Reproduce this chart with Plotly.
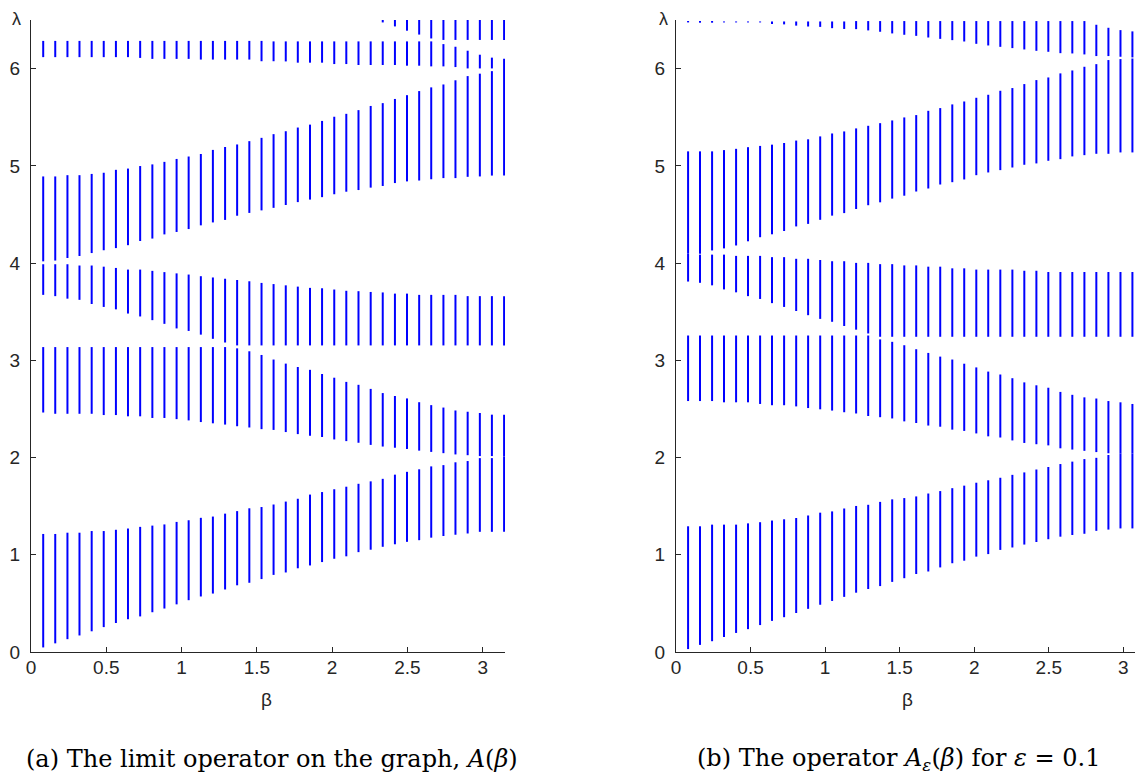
import plotly.graph_objects as go

# beta grid (x positions of the vertical lines)
BETA = [0.081, 0.161, 0.242, 0.322, 0.403, 0.483, 0.564, 0.644, 0.725, 0.806,
        0.886, 0.967, 1.047, 1.128, 1.208, 1.289, 1.369, 1.450, 1.531, 1.611,
        1.692, 1.772, 1.853, 1.933, 2.014, 2.094, 2.175, 2.256, 2.336, 2.417,
        2.497, 2.578, 2.658, 2.739, 2.819, 2.900, 2.981, 3.061, 3.142]

X_TICKS = [0, 0.5, 1, 1.5, 2, 2.5, 3]
X_TICK_TEXT = ["0", "0.5", "1", "1.5", "2", "2.5", "3"]
Y_TICKS = [0, 1, 2, 3, 4, 5, 6]
Y_TICK_TEXT = ["0", "1", "2", "3", "4", "5", "6"]

# ---------------- panel (a): limit operator A(beta) ----------------
A_B1_LO = [0.047, 0.089, 0.132, 0.170, 0.213, 0.256, 0.298, 0.337, 0.366, 0.409,
           0.447, 0.490, 0.533, 0.571, 0.601, 0.643, 0.686, 0.712, 0.750, 0.793,
           0.818, 0.861, 0.890, 0.925, 0.959, 0.984, 1.027, 1.052, 1.082, 1.108,
           1.133, 1.150, 1.176, 1.193, 1.206, 1.219, 1.236, 1.236, 1.236]
A_B1_HI = [1.214, 1.214, 1.227, 1.227, 1.244, 1.244, 1.257, 1.270, 1.287, 1.300,
           1.312, 1.338, 1.355, 1.380, 1.393, 1.423, 1.449, 1.478, 1.491, 1.517,
           1.547, 1.576, 1.619, 1.645, 1.674, 1.700, 1.730, 1.755, 1.781, 1.824,
           1.853, 1.879, 1.909, 1.922, 1.951, 1.964, 1.994, 1.994, 2.010]
A_B2_LO = [2.463, 2.450, 2.450, 2.450, 2.450, 2.437, 2.437, 2.424, 2.424, 2.407,
           2.407, 2.395, 2.382, 2.365, 2.352, 2.339, 2.322, 2.309, 2.292, 2.284,
           2.262, 2.241, 2.224, 2.211, 2.186, 2.169, 2.152, 2.130, 2.113, 2.101,
           2.088, 2.071, 2.058, 2.045, 2.032, 2.024, 2.015, 2.015, 2.010]
A_B2_HI = [3.136, 3.136, 3.136, 3.136, 3.136, 3.136, 3.136, 3.136, 3.136, 3.136,
           3.136, 3.136, 3.136, 3.136, 3.136, 3.136, 3.123, 3.093, 3.055, 3.008,
           2.966, 2.931, 2.902, 2.859, 2.821, 2.778, 2.748, 2.706, 2.663, 2.633,
           2.608, 2.569, 2.539, 2.514, 2.484, 2.471, 2.458, 2.441, 2.441]
A_B3_LO = [3.673, 3.660, 3.634, 3.622, 3.579, 3.549, 3.524, 3.481, 3.451, 3.413,
           3.375, 3.328, 3.302, 3.264, 3.221, 3.183, 3.153, 3.153, 3.153, 3.153,
           3.153, 3.153, 3.153, 3.153, 3.153, 3.153, 3.153, 3.153, 3.153, 3.153,
           3.153, 3.153, 3.153, 3.153, 3.153, 3.153, 3.153, 3.153, 3.153]
A_B3_HI = [3.988, 3.988, 3.988, 3.975, 3.975, 3.963, 3.950, 3.933, 3.933, 3.920,
           3.907, 3.894, 3.882, 3.865, 3.852, 3.839, 3.826, 3.813, 3.796, 3.784,
           3.771, 3.758, 3.745, 3.741, 3.728, 3.715, 3.711, 3.703, 3.698, 3.686,
           3.686, 3.673, 3.673, 3.673, 3.673, 3.660, 3.660, 3.660, 3.660]
A_B4_LO = [4.018, 4.026, 4.052, 4.073, 4.103, 4.132, 4.154, 4.184, 4.227, 4.252,
           4.295, 4.320, 4.350, 4.388, 4.418, 4.444, 4.487, 4.516, 4.542, 4.568,
           4.597, 4.627, 4.653, 4.678, 4.708, 4.734, 4.751, 4.776, 4.793, 4.823,
           4.840, 4.849, 4.862, 4.874, 4.874, 4.887, 4.891, 4.900, 4.900]
A_B4_HI = [4.891, 4.891, 4.904, 4.904, 4.917, 4.929, 4.959, 4.972, 4.998, 5.015,
           5.041, 5.071, 5.096, 5.122, 5.164, 5.194, 5.220, 5.254, 5.288, 5.326,
           5.356, 5.394, 5.424, 5.462, 5.505, 5.535, 5.573, 5.616, 5.645, 5.688,
           5.727, 5.769, 5.807, 5.837, 5.880, 5.923, 5.948, 5.974, 6.101]
A_B5_LO = [6.118, 6.118, 6.118, 6.118, 6.118, 6.118, 6.118, 6.118, 6.110, 6.100,
           6.100, 6.100, 6.100, 6.093, 6.093, 6.093, 6.093, 6.093, 6.076, 6.076,
           6.074, 6.061, 6.061, 6.061, 6.047, 6.047, 6.037, 6.037, 6.037, 6.037,
           6.030, 6.030, 6.023, 6.023, 6.016, 6.002, 6.002, 6.002, None]
A_B5_HI = [6.285, 6.285, 6.285, 6.285, 6.285, 6.285, 6.285, 6.285, 6.285, 6.285,
           6.285, 6.285, 6.285, 6.285, 6.285, 6.285, 6.285, 6.285, 6.285, 6.280,
           6.280, 6.280, 6.280, 6.280, 6.280, 6.280, 6.280, 6.280, 6.280, 6.280,
           6.280, 6.280, 6.280, 6.252, 6.225, 6.184, 6.143, 6.113, None]
A_B6_LO = [None] * 28 + [6.475, 6.434, 6.390, 6.350, 6.310, 6.295, 6.295, 6.295,
                         6.295, 6.295, 6.295]
A_B6_HI = [None] * 28 + [6.500, 6.500, 6.500, 6.500, 6.500, 6.500, 6.500, 6.500,
                         6.500, 6.500, 6.500]

# ---------------- panel (b): operator A_eps(beta), eps = 0.1 ----------------
B_B1_LO = [0.030, 0.073, 0.111, 0.154, 0.196, 0.235, 0.277, 0.320, 0.358, 0.401,
           0.444, 0.486, 0.525, 0.567, 0.610, 0.648, 0.678, 0.721, 0.759, 0.802,
           0.828, 0.870, 0.913, 0.939, 0.981, 1.007, 1.050, 1.075, 1.105, 1.131,
           1.160, 1.186, 1.203, 1.216, 1.246, 1.259, 1.271, 1.271]
B_B1_HI = [1.293, 1.293, 1.310, 1.310, 1.310, 1.323, 1.335, 1.352, 1.365, 1.378,
           1.404, 1.433, 1.446, 1.476, 1.502, 1.514, 1.544, 1.570, 1.583, 1.600,
           1.630, 1.655, 1.685, 1.711, 1.741, 1.766, 1.792, 1.822, 1.847, 1.877,
           1.903, 1.933, 1.958, 1.984, 1.997, 2.026, 2.040, 2.040]
B_B2_LO = [2.581, 2.581, 2.581, 2.568, 2.568, 2.568, 2.551, 2.538, 2.538, 2.526,
           2.509, 2.496, 2.483, 2.466, 2.453, 2.427, 2.415, 2.402, 2.372, 2.355,
           2.329, 2.317, 2.287, 2.274, 2.248, 2.218, 2.206, 2.176, 2.150, 2.137,
           2.125, 2.095, 2.082, 2.069, 2.056, 2.044, 2.040, 2.040]
B_B2_HI = [3.255, 3.255, 3.255, 3.255, 3.255, 3.255, 3.255, 3.255, 3.255, 3.255,
           3.255, 3.255, 3.255, 3.255, 3.255, 3.255, 3.215, 3.190, 3.155, 3.114,
           3.076, 3.038, 3.008, 2.965, 2.927, 2.884, 2.854, 2.816, 2.773, 2.743,
           2.718, 2.675, 2.645, 2.619, 2.607, 2.581, 2.568, 2.551]
B_B3_LO = [3.810, 3.797, 3.771, 3.729, 3.699, 3.660, 3.631, 3.588, 3.549, 3.507,
           3.464, 3.426, 3.396, 3.353, 3.315, 3.276, 3.242, 3.242, 3.242, 3.242,
           3.242, 3.242, 3.242, 3.242, 3.242, 3.242, 3.242, 3.242, 3.242, 3.242,
           3.242, 3.242, 3.242, 3.242, 3.242, 3.242, 3.242, 3.242]
B_B3_HI = [4.100, 4.087, 4.087, 4.087, 4.074, 4.074, 4.074, 4.061, 4.061, 4.044,
           4.044, 4.032, 4.019, 4.019, 4.002, 4.002, 3.989, 3.989, 3.976, 3.976,
           3.963, 3.963, 3.946, 3.946, 3.933, 3.933, 3.933, 3.933, 3.921, 3.921,
           3.908, 3.908, 3.908, 3.908, 3.908, 3.908, 3.908, 3.908]
B_B4_LO = [4.100, 4.096, 4.130, 4.151, 4.181, 4.224, 4.266, 4.296, 4.330, 4.377,
           4.403, 4.445, 4.488, 4.514, 4.556, 4.595, 4.625, 4.663, 4.693, 4.736,
           4.767, 4.808, 4.832, 4.860, 4.904, 4.932, 4.956, 4.983, 5.011, 5.025,
           5.052, 5.069, 5.097, 5.110, 5.124, 5.124, 5.138, 5.138]
B_B4_HI = [5.149, 5.149, 5.149, 5.162, 5.175, 5.192, 5.205, 5.218, 5.235, 5.260,
           5.273, 5.303, 5.333, 5.354, 5.385, 5.412, 5.439, 5.467, 5.498, 5.522,
           5.566, 5.594, 5.632, 5.662, 5.700, 5.731, 5.772, 5.800, 5.841, 5.882,
           5.909, 5.951, 5.981, 6.019, 6.046, 6.088, 6.098, 6.104]
B_B5_LO = [6.475, 6.472, 6.472, 6.475, 6.475, 6.475, 6.475, 6.459, 6.455, 6.442,
           6.433, 6.429, 6.416, 6.408, 6.406, 6.393, 6.379, 6.362, 6.348, 6.337,
           6.320, 6.306, 6.293, 6.279, 6.255, 6.238, 6.224, 6.211, 6.197, 6.183,
           6.173, 6.159, 6.156, 6.146, 6.129, 6.129, 6.122, 6.115]
B_B5_HI = [6.490, 6.490, 6.490, 6.485, 6.485, 6.485, 6.485, 6.485, 6.485, 6.485,
           6.485, 6.485, 6.485, 6.485, 6.489, 6.489, 6.489, 6.489, 6.489, 6.489,
           6.489, 6.489, 6.489, 6.489, 6.489, 6.489, 6.489, 6.489, 6.489, 6.489,
           6.489, 6.489, 6.489, 6.489, 6.451, 6.420, 6.396, 6.383]

A_LO = [A_B1_LO, A_B2_LO, A_B3_LO, A_B4_LO, A_B5_LO, A_B6_LO]
A_HI = [A_B1_HI, A_B2_HI, A_B3_HI, A_B4_HI, A_B5_HI, A_B6_HI]
B_LO = [B_B1_LO, B_B2_LO, B_B3_LO, B_B4_LO, B_B5_LO]
B_HI = [B_B1_HI, B_B2_HI, B_B3_HI, B_B4_HI, B_B5_HI]

CAPTION_A = "(a) The limit operator on the graph, <i>A</i>(<i>β</i>)"
CAPTION_B = "(b) The operator <i>A</i><sub><i>ε</i></sub>(<i>β</i>) for <i>ε</i> = 0.1"


def segments(beta, lows, highs):
    xs, ys = [], []
    for lo_band, hi_band in zip(lows, highs):
        for b, lo, hi in zip(beta, lo_band, hi_band):
            if lo is None or hi is None:
                continue
            xs += [b, b, None]
            ys += [lo, hi, None]
    return xs, ys


# the page body has an 8 px margin: work in screen pixels and shift by it
OFF = 8
W, H = 1143 - OFF, 778 - OFF


def px(x):
    return (x - OFF) / W


def py(y):
    return 1 - (y - OFF) / H


BLUE = "#0000ff"
AXC = "#262626"
TICKFONT = dict(family="Liberation Sans, Arial, sans-serif", size=19, color=AXC)

fig = go.Figure()
xa, ya = segments(BETA, A_LO, A_HI)
fig.add_trace(go.Scatter(x=xa, y=ya, mode="lines", xaxis="x", yaxis="y",
                         line=dict(color=BLUE, width=2), hoverinfo="skip",
                         showlegend=False))
xb, yb = segments(BETA[:38], B_LO, B_HI)
fig.add_trace(go.Scatter(x=xb, y=yb, mode="lines", xaxis="x2", yaxis="y2",
                         line=dict(color=BLUE, width=2), hoverinfo="skip",
                         showlegend=False))

y_dom = [py(652), py(20)]
common_x = dict(tickvals=X_TICKS, ticktext=X_TICK_TEXT, showline=True,
                linecolor=AXC, linewidth=1, ticks="inside", ticklen=5,
                tickcolor=AXC, tickwidth=1, showgrid=False, zeroline=False,
                tickfont=TICKFONT, fixedrange=True, automargin=False,
                ticklabelstandoff=-2)
common_y = dict(tickvals=Y_TICKS, ticktext=Y_TICK_TEXT, showline=True,
                linecolor=AXC, linewidth=1, ticks="inside", ticklen=5,
                tickcolor=AXC, tickwidth=1, showgrid=False, zeroline=False,
                tickfont=TICKFONT, range=[0, 6.5], domain=y_dom,
                fixedrange=True, automargin=False, ticklabelstandoff=6)

fig.update_layout(
    width=W, height=H,
    margin=dict(l=0, r=0, t=0, b=0, autoexpand=False),
    paper_bgcolor="white", plot_bgcolor="white",
    xaxis=dict(domain=[px(31), px(505)], range=[0, 3.148], anchor="y",
               **common_x),
    yaxis=dict(anchor="x", **common_y),
    xaxis2=dict(domain=[px(676), 1.0], range=[0, 3.132], anchor="y2",
                **common_x),
    yaxis2=dict(anchor="x2", **common_y),
)

ann = []
for xc in (266, 907.5):
    ann.append(dict(x=px(xc), y=py(699), xref="paper", yref="paper",
                    text="β", showarrow=False, xanchor="center",
                    yanchor="middle",
                    font=dict(family="Liberation Sans, Arial", size=19,
                              color=AXC)))
for xc in (16.5, 663.5):
    ann.append(dict(x=px(xc), y=py(8), xref="paper", yref="paper",
                    text="λ", showarrow=False, xanchor="center",
                    yanchor="top", borderpad=0,
                    font=dict(family="Liberation Sans, Arial", size=18,
                              color=AXC)))
for xc, txt in ((271.5, CAPTION_A), (898.5, CAPTION_B)):
    ann.append(dict(x=px(xc), y=py(759), xref="paper", yref="paper",
                    text=txt, showarrow=False, xanchor="center",
                    yanchor="middle",
                    font=dict(family="DejaVu Serif, serif", size=24,
                              color="black")))
fig.update_layout(annotations=ann)

fig.write_html("out.html")
